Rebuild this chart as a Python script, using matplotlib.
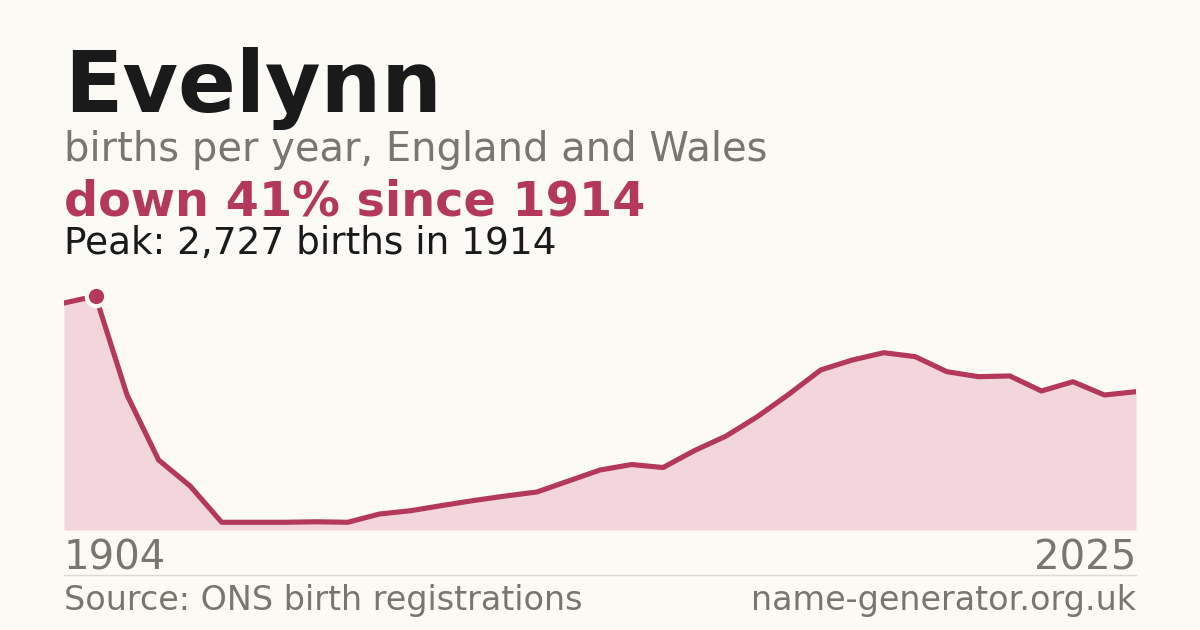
import numpy as np
import matplotlib.pyplot as plt

# Years shown (first ten are ten-yearly, then annual)
years = [1904, 1914, 1924, 1934, 1944, 1954, 1964, 1974, 1984, 1994,
         2001, 2002, 2003, 2004, 2005, 2006, 2007, 2008, 2009, 2010,
         2011, 2012, 2013, 2014, 2015, 2016, 2017, 2018, 2019, 2020,
         2021, 2022, 2023, 2024, 2025]
births = [2645, 2727, 1573, 816, 513, 90, 90, 90, 96, 90,
          186, 225, 286, 344, 396, 443, 571, 699, 763, 728,
          926, 1095, 1323, 1585, 1865, 1981, 2066, 2020, 1845, 1787,
          1795, 1620, 1728, 1573, 1612]

bg = '#fbfaf5'
red = '#b3385a'
fill = '#f2d6db'
grey = '#7a756d'

fig = plt.figure(figsize=(12, 6.3), dpi=100, facecolor=bg)
ax = fig.add_axes([64/1200, 1 - 530/630, 1072/1200, 234/630])
ax.set_facecolor(bg)

x = np.arange(len(years))
ax.fill_between(x, births, 0, color=fill, lw=0)
ax.plot(x, births, color=red, lw=3.7, solid_joinstyle='round')

peak = int(np.argmax(births))
ax.plot(x[peak], births[peak], 'o', ms=14, color=red, mec=bg, mew=3, clip_on=False, zorder=5)

ax.set_xlim(0, len(years) - 1)
ax.set_ylim(0, max(births))
ax.axis('off')

fig.text(64/1200, 1 - 112/630, 'Evelynn', fontsize=61.5, fontweight='bold', color='#1a1a1a')
fig.text(64/1200, 1 - 161/630, 'births per year, England and Wales', fontsize=28.8, color=grey)
fig.text(64/1200, 1 - 215/630, 'down 41% since 1914', fontsize=34.4, fontweight='bold', color=red)
fig.text(64/1200, 1 - 254/630, 'Peak: 2,727 births in 1914', fontsize=26.9, color='#1a1a1a')

fig.text(64/1200, 1 - 570/630, str(years[0]), fontsize=28.9, color=grey)
fig.text(1136/1200, 1 - 570/630, str(years[-1]), fontsize=28.9, color=grey, ha='right')

fig.add_artist(plt.Line2D([64/1200, 1136/1200], [1 - 574.5/630, 1 - 574.5/630], color='#dddad3', lw=1))

fig.text(64/1200, 1 - 610/630, 'Source: ONS birth registrations', fontsize=24, color=grey)
fig.text(1136/1200, 1 - 610/630, 'name-generator.org.uk', fontsize=24, color=grey, ha='right')

fig.savefig('out.png', dpi=100, facecolor=bg)
